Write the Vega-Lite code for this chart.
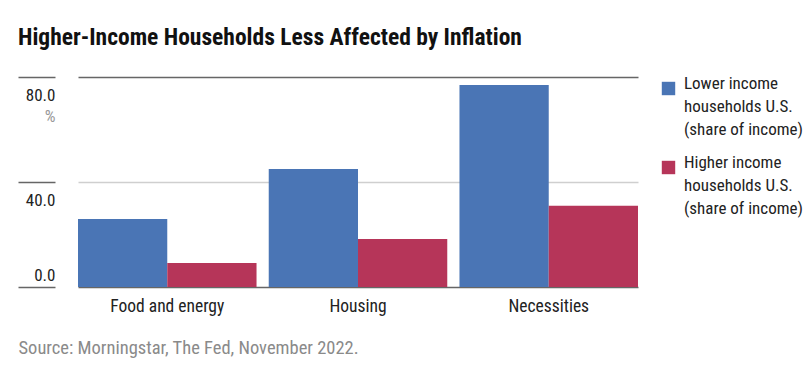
{
  "$schema": "https://vega.github.io/schema/vega-lite/v6.json",
  "width": 560,
  "height": 210,
  "autosize": {"type": "none"},
  "padding": {"left": 78, "top": 77, "right": 171, "bottom": 91},
  "background": "white",
  "title": {
    "text": "Higher-Income Households Less Affected by Inflation",
    "anchor": "start",
    "frame": "group",
    "dx": -60,
    "offset": 8,
    "baseline": "alphabetic",
    "font": "Roboto Condensed, Roboto",
    "fontSize": 23.5,
    "fontWeight": "bold",
    "color": "#111111"
  },
  "data": {
    "values": [
      {"category": "Food and energy", "group": "Lower income households U.S. (share of income)", "value": 25.9},
      {"category": "Food and energy", "group": "Higher income households U.S. (share of income)", "value": 9.1},
      {"category": "Housing", "group": "Lower income households U.S. (share of income)", "value": 45.0},
      {"category": "Housing", "group": "Higher income households U.S. (share of income)", "value": 18.3},
      {"category": "Necessities", "group": "Lower income households U.S. (share of income)", "value": 77.0},
      {"category": "Necessities", "group": "Higher income households U.S. (share of income)", "value": 31.0}
    ]
  },
  "mark": {"type": "bar"},
  "encoding": {
    "x": {
      "field": "category",
      "type": "nominal",
      "sort": ["Food and energy", "Housing", "Necessities"],
      "scale": {"paddingInner": 0.064, "paddingOuter": 0},
      "axis": {
        "title": "Source: Morningstar, The Fed, November 2022.",
        "labelAngle": 0,
        "ticks": false,
        "domain": false,
        "labelPadding": 10,
        "labelFontSize": 17.5,
        "labelColor": "#222222",
        "titleAnchor": "start",
        "titleAlign": "left",
        "titleX": -60,
        "titleY": 66,
        "titleBaseline": "alphabetic",
        "titleFontWeight": "normal",
        "titleFontSize": 18.5,
        "titleColor": "#8a8a8a"
      }
    },
    "xOffset": {
      "field": "group",
      "type": "nominal",
      "sort": ["Lower income households U.S. (share of income)", "Higher income households U.S. (share of income)"],
      "scale": {"paddingInner": 0, "paddingOuter": 0}
    },
    "y": {
      "field": "value",
      "type": "quantitative",
      "scale": {"domain": [0, 80], "nice": false},
      "axis": {
        "title": "%",
        "values": [0, 40, 80],
        "format": ".1f",
        "offset": 23,
        "tickSize": 37,
        "tickColor": "#666666",
        "tickWidth": 1.5,
        "domain": false,
        "labelPadding": -37,
        "labelAlign": "right",
        "labelBaseline": "alphabetic",
        "labelOffset": {"condition": {"test": "datum.value > 0", "value": 23}, "value": -7},
        "labelFontSize": 17,
        "labelColor": "#222222",
        "grid": true,
        "gridColor": {"condition": {"test": "datum.value == 40", "value": "#cfcfcf"}, "value": "#666666"},
        "gridWidth": 1.5,
        "titleAngle": 0,
        "titleAlign": "right",
        "titleBaseline": "alphabetic",
        "titleX": 0,
        "titleY": 44,
        "titleColor": "#999999",
        "titleFontSize": 17,
        "titleFontWeight": "normal"
      }
    },
    "color": {
      "field": "group",
      "type": "nominal",
      "scale": {
        "domain": ["Lower income households U.S. (share of income)", "Higher income households U.S. (share of income)"],
        "range": ["#4A75B5", "#B63559"]
      },
      "legend": {
        "orient": "none",
        "legendX": 582,
        "legendY": 3,
        "title": null,
        "symbolType": "square",
        "symbolSize": 180,
        "symbolStrokeWidth": 0,
        "labelFontSize": 17,
        "labelColor": "#222222",
        "labelOffset": 7,
        "labelLimit": 220,
        "labelBaseline": "alphabetic",
        "labelExpr": "split(replace(replace(datum.label, ' households', '|households'), ' (share', '|(share'), '|')",
        "rowPadding": 15,
        "encoding": {"labels": {"update": {"dy": {"value": 6}}}}
      }
    }
  },
  "config": {
    "view": {"stroke": null},
    "font": "Roboto Condensed, Roboto",
    "style": {"guide-label": {"lineHeight": 23}}
  }
}
